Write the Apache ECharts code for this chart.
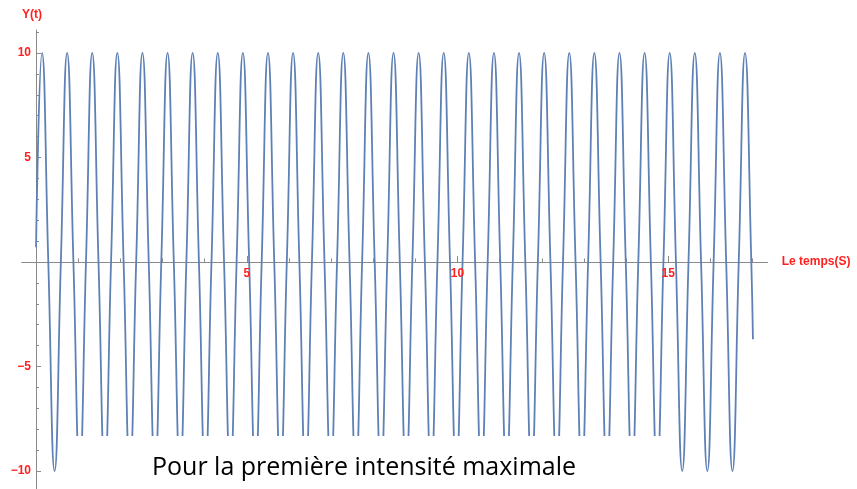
<!DOCTYPE html>
<html>
<head>
<meta charset="utf-8">
<script src="https://cdn.jsdelivr.net/npm/echarts@6/dist/echarts.min.js"></script>
<style>
html,body{margin:0;padding:0;background:#fff;}
#chart{width:857px;height:489px;}
</style>
</head>
<body>
<div id="chart"></div>
<script>
// Values (time in s, amplitude)
const startPoint = [0, 0.7];
const endPoint = [17.01, -3.7];
const peakValue = 10;
const troughValue = -10;
const peakTimes = [0.142, 0.738, 1.333, 1.929, 2.525, 3.121, 3.716, 4.312, 4.908, 5.503,
  6.099, 6.695, 7.290, 7.886, 8.482, 9.078, 9.673, 10.269, 10.865, 11.460,
  12.056, 12.652, 13.247, 13.843, 14.439, 15.035, 15.630, 16.226, 16.822];
const downCrossTimes = [0.291, 0.887, 1.482, 2.078, 2.674, 3.269, 3.865, 4.461, 5.057, 5.652,
  6.248, 6.844, 7.439, 8.035, 8.631, 9.226, 9.822, 10.418, 11.014, 11.609,
  12.205, 12.801, 13.396, 13.992, 14.588, 15.183, 15.779, 16.375, 16.971];
const troughTimes = [0.440, 1.036, 1.631, 2.227, 2.823, 3.418, 4.014, 4.610, 5.206, 5.801,
  6.397, 6.993, 7.588, 8.184, 8.780, 9.375, 9.971, 10.567, 11.163, 11.758,
  12.354, 12.950, 13.545, 14.141, 14.737, 15.332, 15.928, 16.524];
const upCrossTimes = [0.589, 1.185, 1.780, 2.376, 2.972, 3.567, 4.163, 4.759, 5.354, 5.950,
  6.546, 7.142, 7.737, 8.333, 8.929, 9.524, 10.120, 10.716, 11.312, 11.907,
  12.503, 13.099, 13.694, 14.290, 14.886, 15.481, 16.077, 16.673];

const xMinorTicks = [1, 2, 3, 4, 6, 7, 8, 9, 11, 12, 13, 14, 16, 17];
const xMajorTicks = [5, 10, 15];
const xTickLabels = {5: '5', 10: '10', 15: '15'};
const yMinorTicks = [-9, -8, -7, -6, -4, -3, -2, -1, 1, 2, 3, 4, 6, 7, 8, 9, 11];
const yMajorTicks = [-10, -5, 5, 10];
const yTickLabels = {'-10': '\u221210', '-5': '\u22125', '5': '5', '10': '10'};

const xRange = [-0.34, 17.36];
const yRange = [-10.9, 11.1];

const xName = 'Le temps(S)';
const yName = 'Y(t)';
const noteText = 'Pour la première intensité maximale';

// build the point table
const points = [startPoint];
peakTimes.forEach(t => points.push([t, peakValue]));
downCrossTimes.forEach(t => points.push([t, 0]));
troughTimes.forEach(t => points.push([t, troughValue]));
upCrossTimes.forEach(t => points.push([t, 0]));
points.push(endPoint);
points.sort((a, b) => a[0] - b[0]);

const red = '#ff1f1f';
const axisColor = '#8a8a8a';
const labelFont = {color: red, fontWeight: 'bold', fontSize: 12, fontFamily: 'Liberation Sans, Arial, sans-serif'};

// grid geometry and the offsets that put each axis through the origin
const G = {left: 21.7, top: 30, width: 746, height: 459.8};
const xAxisOffset = -G.height * (0 - yRange[0]) / (yRange[1] - yRange[0]);
const yAxisOffset = -G.width * (0 - xRange[0]) / (xRange[1] - xRange[0]);

const chart = echarts.init(document.getElementById('chart'), null, {renderer: 'canvas'});
chart.setOption({
  animation: false,
  backgroundColor: '#ffffff',
  grid: Object.assign({containLabel: false, outerBoundsMode: 'none'}, G),
  xAxis: [{
    type: 'value', min: xRange[0], max: xRange[1], position: 'bottom', offset: xAxisOffset,
    splitLine: {show: false},
    axisLine: {show: true, onZero: false, lineStyle: {color: axisColor, width: 1}},
    axisTick: {show: true, inside: true, length: 3.5, customValues: xMinorTicks, lineStyle: {color: axisColor, width: 1}},
    axisLabel: {show: false},
    name: xName, nameLocation: 'end', nameGap: 14,
    nameTextStyle: Object.assign({verticalAlign: 'middle'}, labelFont)
  }, {
    type: 'value', min: xRange[0], max: xRange[1], position: 'bottom', offset: xAxisOffset, z: 5,
    splitLine: {show: false},
    axisLine: {show: false, onZero: false},
    axisTick: {show: true, inside: true, length: 6, customValues: xMajorTicks, lineStyle: {color: axisColor, width: 1}},
    axisLabel: Object.assign({show: true, margin: 6, customValues: xMajorTicks, hideOverlap: false, formatter: v => xTickLabels[v] || ''}, labelFont)
  }],
  yAxis: [{
    type: 'value', min: yRange[0], max: yRange[1], position: 'left', offset: yAxisOffset,
    splitLine: {show: false},
    axisLine: {show: true, onZero: false, lineStyle: {color: axisColor, width: 1}},
    axisTick: {show: true, inside: true, length: 3, customValues: yMinorTicks, lineStyle: {color: axisColor, width: 1}},
    axisLabel: Object.assign({show: true, margin: 5, customValues: yMajorTicks, formatter: v => yTickLabels[String(v)] || ''}, labelFont),
    name: yName, nameLocation: 'end', nameGap: 9,
    nameTextStyle: Object.assign({padding: [0, 8, 0, 0]}, labelFont)
  }, {
    type: 'value', min: yRange[0], max: yRange[1], position: 'left', offset: yAxisOffset,
    splitLine: {show: false},
    axisLine: {show: false, onZero: false},
    axisTick: {show: true, inside: true, length: 5, customValues: yMajorTicks, lineStyle: {color: axisColor, width: 1}},
    axisLabel: {show: false}
  }],
  series: [{
    type: 'line', xAxisIndex: 0, yAxisIndex: 0,
    data: points, showSymbol: false, smooth: 0.5,
    lineStyle: {color: '#5e81b5', width: 1.8},
    silent: true, z: 2
  }],
  graphic: [{
    type: 'rect', z: 100,
    shape: {x: 66, y: 436, width: 604, height: 53},
    style: {fill: '#ffffff'}
  }, {
    type: 'text', z: 101,
    style: {text: noteText, x: 152, y: 468, font: '25px "Open Sans"', fill: '#000000', textAlign: 'left', textVerticalAlign: 'middle'}
  }]
});
</script>
</body>
</html>
